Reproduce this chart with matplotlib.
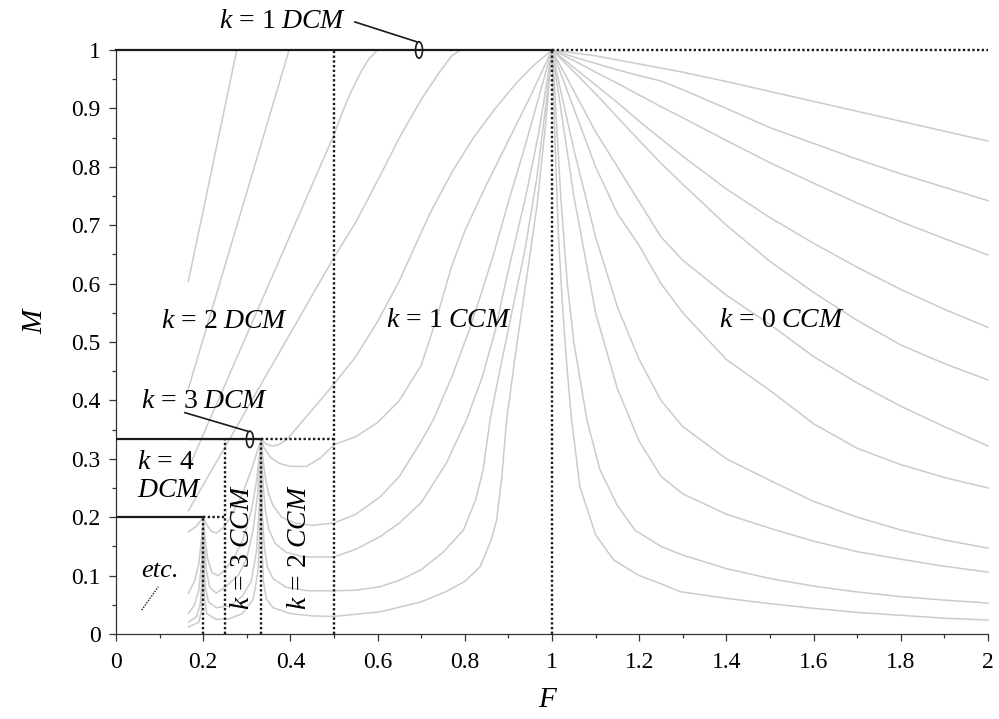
import numpy as np
import matplotlib.pyplot as plt
from matplotlib.patches import Ellipse

plt.rcParams['font.family'] = ['Liberation Serif', 'DejaVu Serif']
plt.rcParams['mathtext.fontset'] = 'custom'
plt.rcParams['mathtext.rm'] = 'Liberation Serif'
plt.rcParams['mathtext.it'] = 'Liberation Serif:italic'

# Curvas M(F), una por cada valor de Q (de menor a mayor Q)
q1_f = [1.0, 1.05, 1.1, 1.15, 1.2, 1.25, 1.3, 1.4, 1.5, 1.6, 1.7, 1.8, 1.9, 2.0]
q1_m = [1.0, 0.995, 0.99, 0.983, 0.976, 0.969, 0.962, 0.946, 0.929, 0.912, 0.895, 0.878, 0.861, 0.844]

q2_f = [0.166, 0.277, 1.0, 1.05, 1.1, 1.15, 1.2, 1.25, 1.3, 1.4, 1.5, 1.6, 1.7, 1.8, 1.9, 2.0]
q2_m = [0.604, 1.0, 1.0, 0.988, 0.977, 0.966, 0.956, 0.947, 0.932, 0.90, 0.867, 0.84, 0.813, 0.788, 0.765, 0.742]

q3_f = [0.166, 0.397, 1.0, 1.05, 1.1, 1.15, 1.2, 1.25, 1.3, 1.4, 1.5, 1.6, 1.7, 1.8, 1.9, 2.0]
q3_m = [0.42, 1.0, 1.0, 0.982, 0.962, 0.943, 0.923, 0.903, 0.884, 0.845, 0.807, 0.772, 0.738, 0.706, 0.677, 0.649]

q4_f = [0.166, 0.5, 0.52, 0.54, 0.56, 0.58, 0.6, 1.0, 1.05, 1.1, 1.15, 1.2, 1.25, 1.3, 1.4, 1.5, 1.6, 1.7, 1.8, 1.9, 2.0]
q4_m = [0.283, 0.855, 0.895, 0.93, 0.96, 0.985, 1.0, 1.0, 0.97, 0.94, 0.91, 0.878, 0.848, 0.818, 0.762, 0.713, 0.669, 0.628, 0.59, 0.556, 0.525]

q5_f = [0.166, 0.5, 0.55, 0.606, 0.65, 0.7, 0.74, 0.77, 0.79, 1.0, 1.05, 1.1, 1.15, 1.2, 1.25, 1.3, 1.4, 1.5, 1.6, 1.7, 1.8, 1.9, 2.0]
q5_m = [0.211, 0.645, 0.705, 0.785, 0.85, 0.915, 0.96, 0.99, 1.0, 1.0, 0.963, 0.925, 0.885, 0.845, 0.806, 0.77, 0.70, 0.638, 0.585, 0.537, 0.495, 0.463, 0.435]

q6_f = [0.166, 0.333, 0.345, 0.36, 0.375, 0.392, 0.5, 0.55, 0.6, 0.65, 0.682, 0.72, 0.77, 0.82, 0.87, 0.92, 0.96, 1.0,
        1.05, 1.1, 1.15, 1.2, 1.25, 1.3, 1.4, 1.5, 1.6, 1.7, 1.8, 1.9, 2.0]
q6_m = [0.333, 0.333, 0.325, 0.322, 0.325, 0.333, 0.428, 0.475, 0.535, 0.605, 0.658, 0.72, 0.79, 0.85, 0.9, 0.945, 0.975, 1.0,
        0.93, 0.86, 0.80, 0.74, 0.68, 0.64, 0.58, 0.53, 0.475, 0.43, 0.39, 0.355, 0.322]

q7_f = [0.166, 0.185, 0.195, 0.2, 0.21, 0.22, 0.231, 0.25, 0.27, 0.29, 0.31, 0.325, 0.333,
        0.34, 0.355, 0.375, 0.4, 0.437, 0.47, 0.5, 0.55, 0.6, 0.65, 0.7, 0.735, 0.77, 0.8, 0.85, 0.9, 0.95, 1.0,
        1.05, 1.1, 1.15, 1.2, 1.25, 1.3, 1.4, 1.5, 1.6, 1.7, 1.8, 1.9, 2.0]
q7_m = [0.175, 0.185, 0.195, 0.2, 0.185, 0.175, 0.173, 0.185, 0.21, 0.24, 0.28, 0.315, 0.333,
        0.318, 0.302, 0.292, 0.287, 0.287, 0.302, 0.324, 0.338, 0.362, 0.4, 0.46, 0.54, 0.63, 0.69, 0.77, 0.845, 0.92, 1.0,
        0.9, 0.80, 0.72, 0.665, 0.60, 0.55, 0.47, 0.417, 0.36, 0.318, 0.29, 0.268, 0.25]

q8_f = [0.166, 0.18, 0.19, 0.197, 0.2, 0.205, 0.21, 0.22, 0.235, 0.25, 0.27, 0.29, 0.31, 0.322, 0.333,
        0.337, 0.342, 0.35, 0.36, 0.38, 0.41, 0.45, 0.5, 0.55, 0.606, 0.65, 0.7, 0.728, 0.77, 0.81, 0.845, 0.869, 0.9, 0.94, 0.97, 1.0,
        1.02, 1.05, 1.1, 1.15, 1.2, 1.25, 1.3, 1.4, 1.5, 1.6, 1.7, 1.8, 1.9, 2.0]
q8_m = [0.07, 0.09, 0.12, 0.17, 0.2, 0.16, 0.13, 0.105, 0.1, 0.11, 0.13, 0.16, 0.21, 0.26, 0.333,
        0.3, 0.27, 0.24, 0.22, 0.2, 0.19, 0.186, 0.19, 0.205, 0.235, 0.27, 0.33, 0.367, 0.44, 0.52, 0.6, 0.658, 0.74, 0.84, 0.92, 1.0,
        0.93, 0.83, 0.68, 0.56, 0.47, 0.40, 0.355, 0.30, 0.263, 0.227, 0.20, 0.178, 0.161, 0.147]

q9_f = [0.166, 0.18, 0.19, 0.196, 0.2, 0.203, 0.207, 0.215, 0.23, 0.25, 0.28, 0.3, 0.315, 0.325, 0.333,
        0.335, 0.338, 0.343, 0.35, 0.365, 0.39, 0.43, 0.5, 0.55, 0.606, 0.65, 0.7, 0.758, 0.804, 0.84, 0.87, 0.893, 0.911, 0.94, 0.97, 1.0,
        1.01, 1.02, 1.05, 1.1, 1.15, 1.2, 1.25, 1.3, 1.4, 1.5, 1.6, 1.7, 1.8, 1.9, 2.0]
q9_m = [0.035, 0.05, 0.075, 0.12, 0.2, 0.15, 0.11, 0.08, 0.07, 0.08, 0.1, 0.13, 0.18, 0.24, 0.333,
        0.29, 0.25, 0.21, 0.18, 0.155, 0.14, 0.132, 0.132, 0.145, 0.167, 0.19, 0.225, 0.293, 0.367, 0.44, 0.52, 0.6, 0.658, 0.75, 0.86, 1.0,
        0.95, 0.9, 0.75, 0.55, 0.42, 0.33, 0.27, 0.24, 0.205, 0.181, 0.159, 0.141, 0.128, 0.116, 0.106]

q10_f = [0.166, 0.185, 0.193, 0.198, 0.2, 0.202, 0.205, 0.212, 0.23, 0.26, 0.29, 0.31, 0.322, 0.329, 0.333,
         0.334, 0.336, 0.34, 0.347, 0.36, 0.39, 0.44, 0.5, 0.55, 0.606, 0.65, 0.7, 0.75, 0.797, 0.825, 0.842, 0.858, 0.88, 0.905, 0.938, 0.965, 0.985, 1.0,
         1.005, 1.01, 1.02, 1.035, 1.05, 1.08, 1.11, 1.15, 1.19, 1.25, 1.3, 1.4, 1.5, 1.6, 1.7, 1.8, 1.9, 2.0]
q10_m = [0.02, 0.03, 0.05, 0.1, 0.2, 0.12, 0.08, 0.055, 0.045, 0.048, 0.065, 0.09, 0.14, 0.22, 0.333,
         0.27, 0.2, 0.15, 0.115, 0.095, 0.08, 0.074, 0.074, 0.075, 0.081, 0.092, 0.11, 0.14, 0.178, 0.23, 0.281, 0.367, 0.45, 0.54, 0.658, 0.78, 0.9, 1.0,
         0.95, 0.88, 0.75, 0.6, 0.5, 0.367, 0.281, 0.22, 0.178, 0.15, 0.135, 0.112, 0.095, 0.082, 0.072, 0.064, 0.058, 0.053]

q11_f = [0.166, 0.19, 0.196, 0.199, 0.2, 0.201, 0.203, 0.208, 0.23, 0.26, 0.29, 0.315, 0.326, 0.331, 0.333,
         0.3335, 0.335, 0.338, 0.345, 0.36, 0.4, 0.45, 0.5, 0.606, 0.7, 0.758, 0.8, 0.835, 0.86, 0.873, 0.885, 0.896, 0.92, 0.94, 0.965, 0.985, 1.0,
         1.003, 1.008, 1.015, 1.025, 1.035, 1.045, 1.064, 1.1, 1.141, 1.2, 1.25, 1.294, 1.4, 1.5, 1.6, 1.7, 1.8, 1.9, 2.0]
q11_m = [0.012, 0.02, 0.04, 0.09, 0.2, 0.1, 0.06, 0.035, 0.025, 0.026, 0.035, 0.06, 0.11, 0.2, 0.333,
         0.25, 0.15, 0.09, 0.06, 0.045, 0.035, 0.031, 0.03, 0.038, 0.055, 0.073, 0.09, 0.115, 0.16, 0.195, 0.27, 0.367, 0.5, 0.6, 0.73, 0.87, 1.0,
         0.93, 0.82, 0.68, 0.55, 0.45, 0.367, 0.252, 0.17, 0.127, 0.1, 0.086, 0.0725, 0.061, 0.052, 0.044, 0.037, 0.032, 0.027, 0.024]

curvas = [(q1_f, q1_m), (q2_f, q2_m), (q3_f, q3_m), (q4_f, q4_m), (q5_f, q5_m), (q6_f, q6_m),
          (q7_f, q7_m), (q8_f, q8_m), (q9_f, q9_m), (q10_f, q10_m), (q11_f, q11_m)]

x_ticks = [0, 0.2, 0.4, 0.6, 0.8, 1, 1.2, 1.4, 1.6, 1.8, 2]
x_labels = ['0', '0.2', '0.4', '0.6', '0.8', '1', '1.2', '1.4', '1.6', '1.8', '2']
y_ticks = [0, 0.1, 0.2, 0.3, 0.4, 0.5, 0.6, 0.7, 0.8, 0.9, 1]
y_labels = ['0', '0.1', '0.2', '0.3', '0.4', '0.5', '0.6', '0.7', '0.8', '0.9', '1']

# Crear figura
fig = plt.figure(figsize=(9.99, 7.19), dpi=100)
ax = fig.add_axes([116 / 999, 1 - 634 / 719, 872 / 999, 584 / 719])
ax.set_xlim(0, 2)
ax.set_ylim(0, 1)

gris = '#cbcbcb'
for f, m in curvas:
    ax.plot(f, m, color=gris, lw=1.1, zorder=1, clip_on=False, solid_joinstyle='round')

negro = '#1a1a1a'
punteado = (0, (1.0, 1.0))
# Lineas continuas (DCM impares)
ax.plot([0, 1], [1, 1], color=negro, lw=1.6, zorder=4, clip_on=False)
ax.plot([0, 1 / 3], [1 / 3, 1 / 3], color=negro, lw=1.6, zorder=4)
ax.plot([0, 0.2], [0.2, 0.2], color=negro, lw=1.6, zorder=4)
# Lineas punteadas (fronteras)
kw = dict(color=negro, lw=1.7, ls=punteado, zorder=3, clip_on=False)
ax.plot([1, 2], [1, 1], **kw)
ax.plot([1, 1], [0, 1], **kw)
ax.plot([0.5, 0.5], [0, 1], **kw)
ax.plot([1 / 3, 0.5], [1 / 3, 1 / 3], **kw)
ax.plot([1 / 3, 1 / 3], [0, 1 / 3], **kw)
ax.plot([0.25, 0.25], [0, 1 / 3], **kw)
ax.plot([0.2, 0.25], [0.2, 0.2], **kw)
ax.plot([0.2, 0.2], [0, 0.2], **kw)
ax.plot([0.059, 0.097], [0.041, 0.081], color=negro, lw=1, ls=punteado, zorder=3)

# Marcadores elipse y flechas
ax.add_patch(Ellipse((0.695, 1.0), 0.016, 0.028, fill=False, ec=negro, lw=1.2, zorder=5, clip_on=False))
ax.plot([0.548, 0.690], [1.048, 1.014], color=negro, lw=1.2, clip_on=False)
ax.add_patch(Ellipse((0.307, 1 / 3), 0.016, 0.028, fill=False, ec=negro, lw=1.2, zorder=5))
ax.plot([0.158, 0.303], [0.379, 0.347], color=negro, lw=1.2)

# Textos
fs = 20
ax.text(0.381, 1.049, r'$k\,=\,1\;DCM$', fontsize=fs, ha='center', va='center', clip_on=False)
ax.text(0.25, 0.535, r'$k\,=\,2\;DCM$', fontsize=fs, ha='center', va='center')
ax.text(0.764, 0.536, r'$k\,=\,1\;CCM$', fontsize=fs, ha='center', va='center')
ax.text(1.528, 0.536, r'$k\,=\,0\;CCM$', fontsize=fs, ha='center', va='center')
ax.text(0.202, 0.398, r'$k\,=\,3\;DCM$', fontsize=fs, ha='center', va='center')
ax.text(0.048, 0.293, r'$k\,=\,4$', fontsize=fs, ha='left', va='center')
ax.text(0.048, 0.245, r'$DCM$', fontsize=fs, ha='left', va='center')
ax.text(0.101, 0.108, 'etc.', fontsize=fs - 1, style='italic', ha='center', va='center')
ax.text(0.290, 0.148, r'$k\,=\,3\;CCM$', fontsize=fs, ha='center', va='center', rotation=90)
ax.text(0.420, 0.148, r'$k\,=\,2\;CCM$', fontsize=fs, ha='center', va='center', rotation=90)

fig.text(35 / 999, 1 - 322 / 719, 'M', fontsize=21, style='italic', ha='center', va='center', rotation=90)
fig.text(547 / 999, 1 - 700 / 719, 'F', fontsize=21, style='italic', ha='center', va='center')

# Ejes
for s in ['top', 'right']:
    ax.spines[s].set_visible(False)
for s in ['left', 'bottom']:
    ax.spines[s].set_color('#333333')
    ax.spines[s].set_linewidth(0.9)
ax.set_xticks(x_ticks)
ax.set_xticklabels(x_labels)
ax.set_yticks(y_ticks)
ax.set_yticklabels(y_labels)
ax.set_xticks(np.arange(0.1, 2.0, 0.2), minor=True)
ax.set_yticks(np.arange(0.05, 1.0, 0.1), minor=True)
ax.tick_params(which='major', length=5, width=0.9, color='#333333', labelsize=17, direction='out')
ax.tick_params(which='minor', length=3, width=0.9, color='#333333', direction='out')
ax.tick_params(axis='x', pad=8)
ax.tick_params(axis='y', pad=6)

fig.savefig('out.png', dpi=100)
